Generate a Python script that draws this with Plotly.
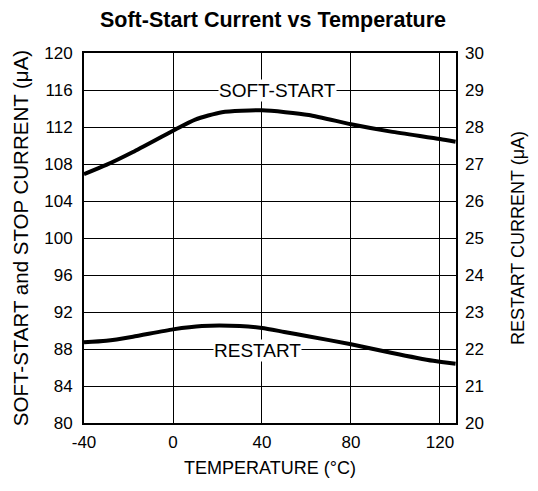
import plotly.graph_objects as go

# Data
temp_soft = [-40, -30, -18, 0, 10, 22, 40, 61, 80, 98, 120, 127]
soft_start = [106.9, 107.9, 109.3, 111.6, 112.8, 113.6, 113.8, 113.3, 112.3, 111.5, 110.7, 110.4]

temp_restart = [-40, -30, -18, 0, 13, 30, 40, 50, 60, 80, 98, 117, 127]
restart = [22.18, 22.22, 22.33, 22.53, 22.62, 22.62, 22.57, 22.46, 22.35, 22.13, 21.9, 21.68, 21.6]

x_ticks = [-40, 0, 40, 80, 120]
x_tick_text = ["-40", "0", "40", "80", "120"]
y_left_ticks = [80, 84, 88, 92, 96, 100, 104, 108, 112, 116, 120]
y_right_ticks = [20, 21, 22, 23, 24, 25, 26, 27, 28, 29, 30]

FONT = "Liberation Sans, Arial, sans-serif"

fig = go.Figure()
fig.add_trace(go.Scatter(x=temp_soft, y=soft_start, mode="lines",
                         line=dict(color="black", width=4, shape="spline", smoothing=0.6),
                         showlegend=False, yaxis="y"))
fig.add_trace(go.Scatter(x=temp_restart, y=restart, mode="lines",
                         line=dict(color="black", width=4, shape="spline", smoothing=0.6),
                         showlegend=False, yaxis="y2"))

fig.add_annotation(x=47, y=116, xref="x", yref="y", text="SOFT-START", showarrow=False,
                   bgcolor="white", font=dict(size=19, color="black", family=FONT), borderpad=0)
fig.add_annotation(x=38, y=87.8, xref="x", yref="y", text="RESTART", showarrow=False,
                   bgcolor="white", font=dict(size=19, color="black", family=FONT), borderpad=0)

fig.update_layout(
    width=530, height=483,
    margin=dict(l=76, r=82, t=45, b=68, autoexpand=False),
    paper_bgcolor="white", plot_bgcolor="white",
    font=dict(family=FONT, color="black", size=17),
    title=dict(text="<b>Soft-Start Current vs Temperature</b>", x=0.5, xanchor="center",
               y=1 - 11 / 483, yanchor="middle", font=dict(size=21.5, family=FONT)),
    xaxis=dict(range=[-40, 127.2], tickvals=x_ticks, ticktext=x_tick_text,
               showgrid=True, gridcolor="black", gridwidth=1,
               zeroline=False, showline=True, linecolor="black", linewidth=2, mirror=True,
               ticks="", tickfont=dict(size=17), ticklabelstandoff=3, automargin=False,
               title=dict(text="TEMPERATURE (°C)", font=dict(size=18), standoff=10)),
    yaxis=dict(range=[80, 120], tickvals=y_left_ticks, showgrid=True, gridcolor="black", gridwidth=1,
               zeroline=False, showline=True, linecolor="black", linewidth=2, mirror=True,
               ticks="", tickfont=dict(size=17), ticklabelstandoff=6, automargin=False,
               title=dict(text="SOFT-START and STOP CURRENT (μA)", font=dict(size=20.5), standoff=10)),
    yaxis2=dict(range=[20, 30], tickvals=y_right_ticks, overlaying="y", side="right",
                showgrid=False, zeroline=False, ticks="", tickfont=dict(size=17),
                ticklabelstandoff=8, automargin=False,
                title=dict(text="RESTART CURRENT (μA)", font=dict(size=18), standoff=28)),
)

fig.write_html("out.html")
